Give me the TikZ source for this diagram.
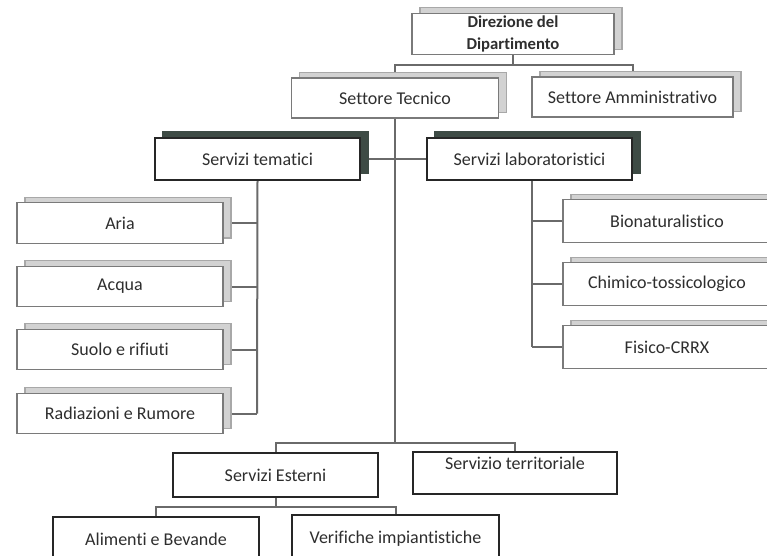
\documentclass[tikz,border=0pt]{standalone}
\usepackage{fontspec}
\setmainfont{Carlito}[Ligatures=NoCommon]
\usetikzlibrary{shadows}
\definecolor{inkgray}{HTML}{2E2E2E}
\definecolor{edgegray}{HTML}{7A7A7A}
\definecolor{shlight}{HTML}{D2D2D2}
\definecolor{shlightedge}{HTML}{A8A8A8}
\definecolor{shdark}{HTML}{3E4B45}
\definecolor{linkgray}{HTML}{6A6A6A}
\pgfdeclarelayer{background}
\pgfsetlayers{background,main}
\begin{document}
\begin{tikzpicture}[x=0.75pt,y=-0.75pt,
  txt/.style={font=\fontsize{13.5}{15}\selectfont, text=inkgray},
  unitbox/.style={txt, draw=edgegray, line width=0.9pt, fill=white, inner sep=2pt,
    copy shadow={shadow xshift=6pt, shadow yshift=4pt, fill=shlight, draw=shlightedge, line width=0.9pt}},
  servbox/.style={txt, draw=black!85, line width=1.1pt, fill=white, inner sep=2pt,
    copy shadow={shadow xshift=6pt, shadow yshift=5pt, fill=shdark, draw=shdark}},
  plainbox/.style={txt, draw=black!85, line width=1.3pt, fill=white, inner sep=2pt},
  link/.style={draw=linkgray, line width=1.5pt},
]
\useasboundingbox (0,0) rectangle (767,556);
\clip (0,0) rectangle (767,556);

% management level
\node[unitbox, minimum width=151.5pt, minimum height=30.75pt, align=center,
  font=\bfseries\fontsize{12.5}{16.5}\selectfont] (dir) at (513,34) {Direzione del\\Dipartimento};
\node[unitbox, minimum width=155pt, minimum height=30pt] (tec) at (395,98) {Settore Tecnico};
\node[unitbox, minimum width=150.75pt, minimum height=30pt] (amm) at (632.5,97) {Settore Amministrativo};

% service groups
\node[servbox, minimum width=153.75pt, minimum height=31.5pt] (tem) at (257.5,159) {Servizi tematici};
\node[servbox, minimum width=153.75pt, minimum height=31.5pt] (lab) at (529.5,159) {Servizi laboratoristici};

% thematic services
\node[unitbox, minimum width=154.5pt, minimum height=30.5pt] (aria) at (120,223) {Aria};
\node[unitbox, minimum width=154.5pt, minimum height=30.5pt] (acqua) at (120,286.5) {Acqua};
\node[unitbox, minimum width=154.5pt, minimum height=30.5pt] (suolo) at (120,349.5) {Suolo e rifiuti};
\node[unitbox, minimum width=154.5pt, minimum height=30.5pt] (rad) at (120,413.5) {Radiazioni e Rumore};

% laboratory services
\node[unitbox, minimum width=156pt, minimum height=32pt] (bio) at (667,221) {Bionaturalistico};
\node[unitbox, minimum width=156pt, minimum height=32pt] (chim) at (667,284) {Chimico-tossicologico};
\node[unitbox, minimum width=156pt, minimum height=32pt] (fis) at (667,347) {Fisico-CRRX};

% external and territorial services
\node[plainbox, minimum width=153.75pt, minimum height=33pt] (est) at (275.5,475) {Servizi Esterni};
\node[plainbox, minimum width=153pt, minimum height=31.5pt, text depth=14.5pt] (ter) at (515,473) {Servizio territoriale};
\node[plainbox, minimum width=154.5pt, minimum height=34pt] (ali) at (156,539.5) {Alimenti e Bevande};
\node[plainbox, minimum width=155.25pt, minimum height=35pt] (ver) at (395.5,538.5) {Verifiche impiantistiche};

% connectors, drawn underneath the boxes
\coordinate (topbar) at (513,65);
\coordinate (midbar) at (395,443);
\coordinate (lowbar) at (275.5,507);
\coordinate (temtrunk) at (257,413.5);
\coordinate (labtop) at (532,180);
\begin{pgfonlayer}{background}
  \fill[white] (0,0) rectangle (767,556);
  \draw[link] (dir.south) -- (topbar);
  \draw[link] (tec.north) |- (topbar) -| (amm.north);
  \draw[link] (tec.south) -- (midbar);
  \draw[link] (est.north) |- (midbar) -| (ter.north);
  \draw[link] (tem.east) -- (lab.west);
  \draw[link] (tem.south) -- (temtrunk);
  \foreach \b in {aria,acqua,suolo,rad} \draw[link] (\b.east) -- (\b.east -| temtrunk);
  \draw[link] (labtop) -- (labtop |- fis.west);
  \foreach \b in {bio,chim,fis} \draw[link] (\b.west) -- (\b.west -| labtop);
  \draw[link] (est.south) -- (lowbar);
  \draw[link] (ali.north) |- (lowbar) -| (ver.north);
\end{pgfonlayer}
\end{tikzpicture}
\end{document}
